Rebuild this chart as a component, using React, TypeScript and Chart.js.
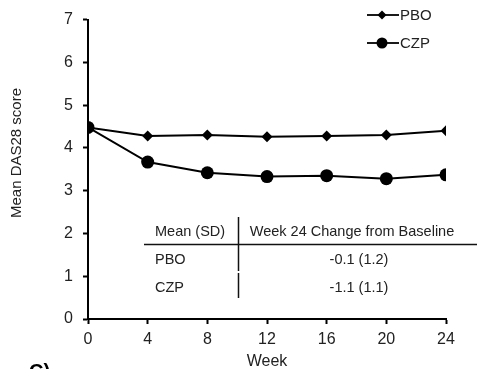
import { useEffect, useRef } from "react";
import { Chart, registerables } from "chart.js";
Chart.register(...registerables);

const weeks = [0, 4, 8, 12, 16, 20, 24];
const pboValues = [4.48, 4.28, 4.3, 4.26, 4.28, 4.3, 4.4];
const czpValues = [4.48, 3.67, 3.42, 3.33, 3.35, 3.28, 3.37];
const seriesLabels = ["PBO", "CZP"];
const yAxisTitle = "Mean DAS28 score";
const xAxisTitle = "Week";
const tableHeader = ["Mean (SD)", "Week 24 Change from Baseline"];
const tableRows = [
  ["PBO", "-0.1 (1.2)"],
  ["CZP", "-1.1 (1.1)"],
];
const panelLabel = "C)";

const FONT = "'Liberation Sans', Arial, sans-serif";
const TEXT = "#222";

const overlayPlugin = {
  id: "overlay",
  afterDraw(chart: any) {
    const ctx = chart.ctx as CanvasRenderingContext2D;
    ctx.save();
    // y axis title
    ctx.fillStyle = TEXT;
    ctx.font = `15px ${FONT}`;
    ctx.textAlign = "center";
    ctx.textBaseline = "middle";
    ctx.translate(17, 153);
    ctx.rotate(-Math.PI / 2);
    ctx.fillText(yAxisTitle, 0, 0);
    ctx.setTransform(1, 0, 0, 1, 0, 0);

    // legend
    const ds = chart.data.datasets;
    const legY = [15, 43];
    ds.forEach((d: any, i: number) => {
      const y = legY[i];
      ctx.strokeStyle = "#000";
      ctx.lineWidth = 1.8;
      ctx.beginPath();
      ctx.moveTo(367, y);
      ctx.lineTo(399, y);
      ctx.stroke();
      ctx.fillStyle = "#000";
      ctx.beginPath();
      if (d.pointStyle === "rectRot") {
        const r = 4.5;
        ctx.moveTo(382, y - r);
        ctx.lineTo(382 + r, y);
        ctx.lineTo(382, y + r);
        ctx.lineTo(382 - r, y);
        ctx.closePath();
      } else {
        ctx.arc(382, y, 5.5, 0, Math.PI * 2);
      }
      ctx.fill();
      ctx.fillStyle = TEXT;
      ctx.font = `15px ${FONT}`;
      ctx.textAlign = "left";
      ctx.textBaseline = "middle";
      ctx.fillText(d.label, 400, y + 1);
    });

    // table
    ctx.fillStyle = TEXT;
    ctx.font = `14.5px ${FONT}`;
    ctx.textBaseline = "middle";
    ctx.textAlign = "left";
    ctx.fillText(tableHeader[0], 155, 232);
    ctx.textAlign = "center";
    ctx.fillText(tableHeader[1], 352, 232);
    const rowY = [260, 288];
    tableRows.forEach((r, i) => {
      ctx.textAlign = "left";
      ctx.fillText(r[0], 155, rowY[i]);
      ctx.textAlign = "center";
      ctx.fillText(r[1], 359, rowY[i]);
    });
    ctx.strokeStyle = "#111";
    ctx.lineWidth = 1.5;
    ctx.beginPath();
    ctx.moveTo(144, 244.5);
    ctx.lineTo(477, 244.5);
    ctx.stroke();
    ctx.beginPath();
    ctx.moveTo(238.5, 217);
    ctx.lineTo(238.5, 271);
    ctx.moveTo(238.5, 273);
    ctx.lineTo(238.5, 298);
    ctx.stroke();

    // panel label (cut off)
    ctx.fillStyle = "#000";
    ctx.font = `bold 20px ${FONT}`;
    ctx.textAlign = "left";
    ctx.textBaseline = "alphabetic";
    ctx.fillText(panelLabel, 29, 378);
    ctx.restore();
  },
};

export default function App() {
  const ref = useRef<HTMLCanvasElement | null>(null);
  useEffect(() => {
    document.body.style.margin = "0";
    const chart = new Chart(ref.current as HTMLCanvasElement, {
      type: "line",
      data: {
        datasets: [
          {
            label: seriesLabels[0],
            data: weeks.map((w, i) => ({ x: w, y: pboValues[i] })),
            borderColor: "#000",
            backgroundColor: "#000",
            borderWidth: 2,
            pointStyle: "rectRot",
            pointRadius: 5.5,
            pointBorderWidth: 0,
            tension: 0,
          },
          {
            label: seriesLabels[1],
            data: weeks.map((w, i) => ({ x: w, y: czpValues[i] })),
            borderColor: "#000",
            backgroundColor: "#000",
            borderWidth: 2,
            pointStyle: "circle",
            pointRadius: 6.5,
            pointBorderWidth: 0,
            tension: 0,
          },
        ],
      },
      options: {
        animation: false,
        responsive: false,
        maintainAspectRatio: false,
        layout: { padding: { left: 0, right: 31, top: 19, bottom: 0 } },
        plugins: { legend: { display: false }, tooltip: { enabled: false } },
        scales: {
          x: {
            type: "linear",
            min: 0,
            max: 24,
            ticks: { stepSize: 4, color: TEXT, font: { family: FONT, size: 16 }, padding: 6 },
            grid: { drawOnChartArea: false, drawTicks: true, tickLength: 5, tickColor: "#000", tickWidth: 2 },
            border: { display: true, color: "#000", width: 2 },
            title: { display: true, text: xAxisTitle, color: TEXT, font: { family: FONT, size: 16 }, padding: { top: 0, bottom: -2 } },
            afterFit: (s: any) => { s.height = 50; },
          },
          y: {
            min: 0,
            max: 7,
            ticks: { stepSize: 1, color: TEXT, font: { family: FONT, size: 16 }, padding: 10 },
            grid: { drawOnChartArea: false, drawTicks: true, tickLength: 5, tickColor: "#000", tickWidth: 2 },
            border: { display: true, color: "#000", width: 2 },
            afterFit: (s: any) => { s.width = 88; },
          },
        },
      },
      plugins: [overlayPlugin],
    } as any);
    return () => chart.destroy();
  }, []);
  return (
    <div style={{ position: "relative", width: 477, height: 369, background: "#fff" }}>
      <canvas ref={ref} width={477} height={369} style={{ display: "block", width: 477, height: 369 }} />
    </div>
  );
}
